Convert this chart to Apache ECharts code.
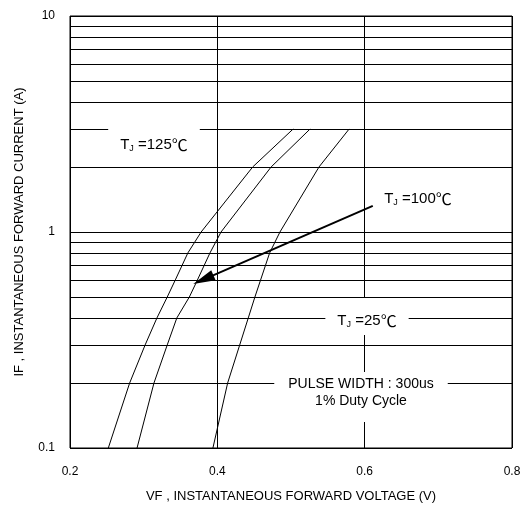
<!DOCTYPE html>
<html>
<head>
<meta charset="utf-8">
<script src="https://cdn.jsdelivr.net/npm/echarts@6/dist/echarts.min.js"></script>
<style>
  html, body { margin: 0; padding: 0; background: #fff; }
  #chart { width: 524px; height: 511px; }
</style>
</head>
<body>
<div id="chart"></div>
<script>
// forward voltage (V) vs forward current (A)
const curve125 = [[0.252, 0.1], [0.281, 0.2], [0.302, 0.3], [0.318, 0.4], [0.332, 0.5], [0.343, 0.6], [0.360, 0.8], [0.378, 1], [0.448, 2], [0.503, 3]];
const curve100 = [[0.291, 0.1], [0.314, 0.2], [0.332, 0.3], [0.345, 0.4], [0.362, 0.5], [0.371, 0.58], [0.390, 0.8], [0.405, 1], [0.473, 2], [0.526, 3]];
const curve25 = [[0.394, 0.1], [0.414, 0.2], [0.442, 0.4], [0.451, 0.5], [0.471, 0.8], [0.485, 1], [0.538, 2], [0.579, 3]];

// minor log grid lines
const minorGrid = [0.2, 0.3, 0.4, 0.5, 0.6, 0.7, 0.8, 0.9, 2, 3, 4, 5, 6, 7, 8, 9];

// arrow pointing at the 100C curve (arrowTo is the centre of the head)
const arrowFrom = [0.611, 1.32];
const arrowTo = [0.381, 0.602];

const xName = "VF , INSTANTANEOUS FORWARD VOLTAGE (V)";
const yName = "IF , INSTANTANEOUS FORWARD CURRENT (A)";
const pulseText = "PULSE WIDTH : 300us\n1% Duty Cycle";

const font = "'Liberation Sans', Arial, sans-serif";

const richTj = {
  t: { fontSize: 15, lineHeight: 17, color: "#000", fontFamily: font },
  j: { fontSize: 9, lineHeight: 12, color: "#000", fontFamily: font, verticalAlign: "bottom" },
  c: { fontSize: 16, lineHeight: 17, color: "#555", fontFamily: "'Noto Sans CJK SC'" }
};

function tjLabel(temp) {
  return "{t|T}{j|J}{t| =" + temp + "}{c|℃}";
}

let chart = echarts.init(document.getElementById("chart"));

let option = {
  animation: false,
  backgroundColor: "#fff",
  textStyle: { fontFamily: font },
  grid: {
    left: 70,
    right: 12,
    top: 16,
    bottom: 63,
    show: true,
    borderColor: "#000",
    borderWidth: 1,
    outerBoundsMode: "none"
  },
  xAxis: {
    type: "value",
    min: 0.2,
    max: 0.8,
    interval: 0.2,
    name: xName,
    nameLocation: "middle",
    nameGap: 42,
    nameTextStyle: { fontSize: 13, color: "#000", fontFamily: font },
    axisLine: { show: false },
    axisTick: { show: false },
    axisLabel: {
      color: "#000",
      fontSize: 12,
      margin: 18,
      formatter: function(v) {
        return v.toFixed(1);
      }
    },
    splitLine: { show: true, lineStyle: { color: "#000", width: 1 } }
  },
  yAxis: {
    type: "log",
    logBase: 10,
    min: 0.1,
    max: 10,
    name: yName,
    nameLocation: "middle",
    nameGap: 44,
    nameTextStyle: { fontSize: 13, color: "#000", fontFamily: font },
    axisLine: { show: false },
    axisTick: { show: false },
    axisLabel: {
      color: "#000",
      fontSize: 12,
      margin: 15,
      formatter: function(v) {
        return v < 1 ? v.toFixed(1) : String(Math.round(v));
      }
    },
    splitLine: { show: true, lineStyle: { color: "#000", width: 1 } }
  },
  series: [
    {
      name: "125",
      type: "line",
      data: curve125,
      showSymbol: false,
      symbol: "none",
      lineStyle: { color: "#000", width: 1 },
      markLine: {
        silent: true,
        symbol: "none",
        label: { show: false },
        lineStyle: { color: "#000", width: 1, type: "solid" },
        data: minorGrid.map(function(v) {
          return { yAxis: v };
        })
      }
    },
    {
      name: "100",
      type: "line",
      data: curve100,
      showSymbol: false,
      symbol: "none",
      lineStyle: { color: "#000", width: 1 },
      markLine: {
        silent: true,
        label: { show: false },
        symbol: ["none", "path://M5,0 L10,20 L0,20 Z"],
        symbolSize: [11, 22],
        lineStyle: { color: "#000", width: 2, type: "solid" },
        itemStyle: { color: "#000" },
        data: [[{ coord: arrowFrom }, { coord: arrowTo }]]
      }
    },
    {
      name: "25",
      type: "line",
      data: curve25,
      showSymbol: false,
      symbol: "none",
      lineStyle: { color: "#000", width: 1 }
    }
  ],
  graphic: [
    {
      type: "text",
      x: 154,
      y: 120,
      z: 100,
      style: {
        text: tjLabel(125),
        rich: richTj,
        align: "center",
        verticalAlign: "top",
        backgroundColor: "#fff",
        padding: [16, 12, 5, 12]
      }
    },
    {
      type: "text",
      x: 418,
      y: 199,
      z: 100,
      style: {
        text: tjLabel(100),
        rich: richTj,
        align: "center",
        verticalAlign: "middle"
      }
    },
    {
      type: "text",
      x: 367,
      y: 298,
      z: 100,
      style: {
        text: tjLabel(25),
        rich: richTj,
        align: "center",
        verticalAlign: "top",
        backgroundColor: "#fff",
        padding: [14, 12, 6, 12]
      }
    },
    {
      type: "text",
      x: 361,
      y: 372,
      z: 100,
      style: {
        text: pulseText,
        font: "14px " + font,
        fill: "#000",
        lineHeight: 17,
        align: "center",
        verticalAlign: "top",
        backgroundColor: "#fff",
        padding: [4, 14, 12, 14]
      }
    }
  ]
};

chart.setOption(option);
</script>
</body>
</html>
